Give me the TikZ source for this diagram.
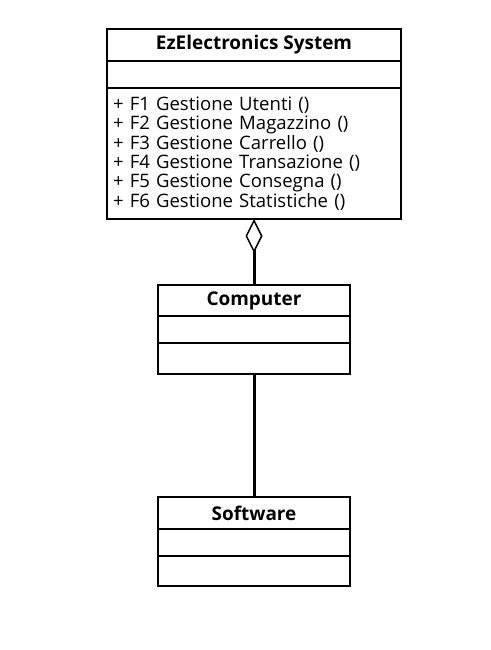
\documentclass[tikz,border=0pt]{standalone}
\usepackage{fontspec}
\setmainfont{Open Sans}
\usetikzlibrary{positioning,arrows.meta}

\begin{document}
\begin{tikzpicture}
		\tikzstyle{cls}=[draw=black, line width=1.5pt, inner sep=0pt, outer sep=0pt, font=\fontsize{13.9}{14.5}\selectfont]
		\tikzstyle{cls_name}=[cls, font=\fontsize{14.2}{14.5}\selectfont\bfseries]
		\tikzstyle{wide}=[minimum width=220.5pt]
		\tikzstyle{narrow}=[minimum width=144pt]
		\tikzstyle{link}=[line width=2.25pt]

		\useasboundingbox (0,0) rectangle (367.5pt,-487.5pt);

		\begin{scope}
			\node [cls_name, wide, minimum height=24pt] (sys) at (190.5pt,-33.75pt) {EzElectronics System};
			\node [cls, wide, minimum height=20.25pt, below=0pt of sys] (sys_attr) {};
			\node [cls, wide, minimum height=98.25pt, text width=211.5pt, align=left, below=0pt of sys_attr] (sys_ops)
				{+ F1 Gestione Utenti ()\\
				 + F2 Gestione Magazzino ()\\
				 + F3 Gestione Carrello ()\\
				 + F4 Gestione Transazione ()\\
				 + F5 Gestione Consegna ()\\
				 + F6 Gestione Statistiche ()};
		\end{scope}

		\begin{scope}
			\node [cls_name, narrow, minimum height=23.25pt] (comp) at (190.5pt,-225.4pt) {Computer};
			\node [cls, narrow, minimum height=20.25pt, below=0pt of comp] (comp_attr) {};
			\node [cls, narrow, minimum height=23.25pt, below=0pt of comp_attr] (comp_ops) {};
		\end{scope}

		\begin{scope}
			\node [cls_name, narrow, minimum height=24pt] (soft) at (190.5pt,-384.75pt) {Software};
			\node [cls, narrow, minimum height=20.25pt, below=0pt of soft] (soft_attr) {};
			\node [cls, narrow, minimum height=22.5pt, below=0pt of soft_attr] (soft_ops) {};
		\end{scope}

		\draw [link, -{Diamond[open, line width=1.1pt, length=25.5pt, width=12.75pt]}] (comp.north) -- (sys_ops.south);
		\draw [link] (comp_ops.south) -- (soft.north);

	\end{tikzpicture}
\end{document}
